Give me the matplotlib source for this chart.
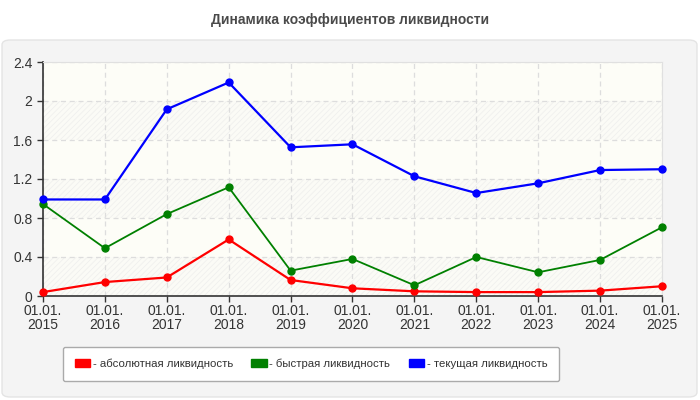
import matplotlib
matplotlib.use('Agg')
import matplotlib.pyplot as plt
from matplotlib.patches import FancyBboxPatch, Patch

plt.rcParams['font.family'] = ['Liberation Sans', 'DejaVu Sans']
plt.rcParams['hatch.linewidth'] = 0.6

years = ['2015', '2016', '2017', '2018', '2019', '2020', '2021', '2022', '2023', '2024', '2025']
tick_labels = ['01.01.\n' + y for y in years]
absolute = [0.04, 0.143, 0.19, 0.58, 0.164, 0.079, 0.048, 0.04, 0.04, 0.055, 0.10]
quick = [0.943, 0.49, 0.84, 1.115, 0.26, 0.38, 0.11, 0.40, 0.243, 0.37, 0.705]
current = [0.99, 0.99, 1.915, 2.19, 1.525, 1.556, 1.228, 1.056, 1.156, 1.292, 1.30]
series_names = ['- абсолютная ликвидность', '- быстрая ликвидность', '- текущая ликвидность']
colors = ['#ff0000', '#008000', '#0000ff']

fig = plt.figure(figsize=(7, 4), dpi=100)
fig.patch.set_facecolor('white')

# grey panel behind the chart
panel = FancyBboxPatch((2 / 700, 3 / 400), 695 / 700, 357 / 400,
                       boxstyle='round,pad=0,rounding_size=0.012',
                       transform=fig.transFigure, facecolor='#f4f4f4',
                       edgecolor='#e4e4e4', linewidth=1, zorder=-5)
fig.patches.append(panel)

fig.text(0.5, 1 - 20 / 400, 'Динамика коэффициентов ликвидности',
         ha='center', va='center', fontsize=10, fontweight='bold', color='#4a4a4a')

ax = fig.add_axes([43 / 700, 1 - 296 / 400, 619 / 700, 234 / 400])
ax.set_facecolor('#fdfdf7')

x = list(range(len(years)))
# alternating hatched bands
for i, lo in enumerate([0, 0.4, 0.8, 1.2, 1.6, 2.0]):
    if i % 2 == 0:
        ax.axhspan(lo, lo + 0.4, facecolor='#fbfbf6', edgecolor='#f0f0ee',
                   hatch='//////', linewidth=0, zorder=0)

for vals, c, lw in zip([absolute, quick, current], colors, [1.6, 1.3, 1.6]):
    ax.plot(x, vals, color=c, linewidth=lw, marker='o', markersize=5, zorder=3, clip_on=False)

ax.set_xlim(0, len(years) - 1)
ax.set_ylim(0, 2.4)
ax.set_yticks([0, 0.4, 0.8, 1.2, 1.6, 2.0, 2.4])
ax.set_yticklabels(['0', '0.4', '0.8', '1.2', '1.6', '2', '2.4'])
ax.set_xticks(x)
ax.set_xticklabels(tick_labels, linespacing=1.0)
ax.tick_params(axis='both', labelsize=10, colors='#333333', length=4, width=1, direction='out')
ax.tick_params(axis='x', pad=2)
ax.grid(True, color='#dddddd', linestyle=(0, (4, 3)), linewidth=0.9)
ax.set_axisbelow(True)
for s in ['top', 'right']:
    ax.spines[s].set_color('#e0e0e0')
for s in ['left', 'bottom']:
    ax.spines[s].set_color('#333333')
    ax.spines[s].set_linewidth(1.2)

handles = [Patch(facecolor=c, edgecolor=c) for c in colors]
leg = fig.legend(handles, series_names, loc='center', bbox_to_anchor=(311 / 700, 1 - 364 / 400),
                 ncol=3, fontsize=8.2, frameon=True, fancybox=True, handlelength=1.35,
                 handleheight=0.65, handletextpad=0.25, columnspacing=1.6,
                 borderpad=1.05, borderaxespad=0, labelcolor='#333333')
leg.get_frame().set_facecolor('white')
leg.get_frame().set_edgecolor('#aaaaaa')
leg.get_frame().set_alpha(1)

fig.savefig('out.png', dpi=100)
